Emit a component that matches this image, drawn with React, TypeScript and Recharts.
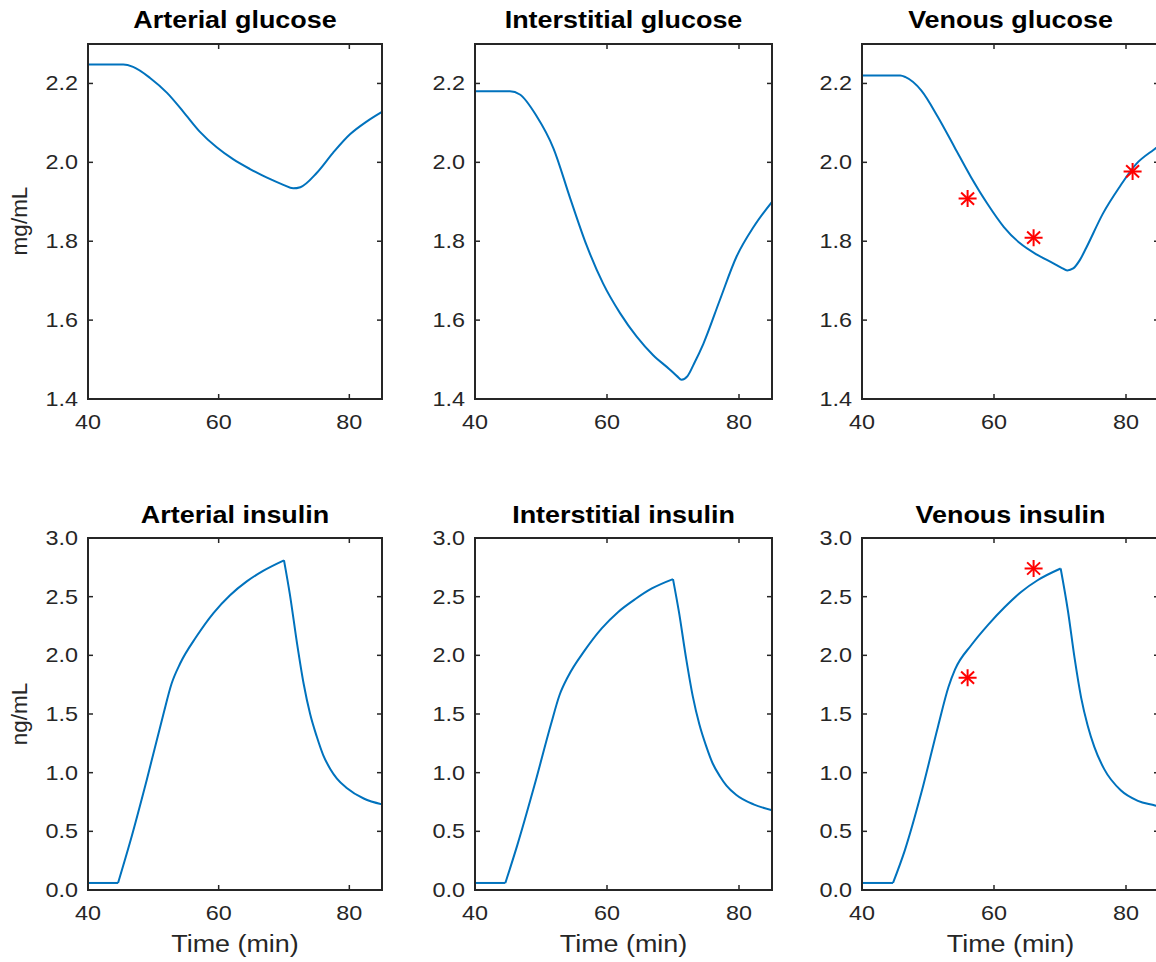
import React from 'react';
import { ComposedChart, Line, Scatter, XAxis, YAxis } from 'recharts';

const BLUE = '#0072BD';
const INK = '#262626';
const RED = '#FF0000';
const FONT = '"Liberation Sans", Arial, Helvetica, sans-serif';
// the reference figure is stretched horizontally, so text is widened to match
const SX = 1.17;

const timeDomain = [40, 85];
const timeTicks = [40, 60, 80];
const glucoseDomain = [1.4, 2.3];
const glucoseTicks = [1.4, 1.6, 1.8, 2.0, 2.2];
const insulinDomain = [0, 3];
const insulinTicks = [0, 0.5, 1, 1.5, 2, 2.5, 3];

const arterialGlucoseTime = [40, 45.4, 46.9, 49.5, 52.1, 54.6, 57.1, 59.7, 62.2, 64.8, 67.4, 69.9, 71.4, 72.5, 75.0, 77.5, 80.1, 82.7, 85];
const arterialGlucose = [2.248, 2.248, 2.242, 2.214, 2.176, 2.128, 2.078, 2.038, 2.008, 1.983, 1.961, 1.943, 1.934, 1.937, 1.973, 2.024, 2.071, 2.104, 2.128];

const interstitialGlucoseTime = [40, 45.3, 46.8, 49.3, 51.9, 54.4, 56.9, 59.4, 62.0, 64.5, 67.0, 69.5, 70.6, 71.3, 72.2, 73.2, 74.6, 77.1, 79.6, 82.2, 85];
const interstitialGlucose = [2.18, 2.18, 2.172, 2.118, 2.035, 1.910, 1.790, 1.693, 1.617, 1.558, 1.511, 1.475, 1.458, 1.449, 1.458, 1.490, 1.540, 1.651, 1.760, 1.836, 1.900];

const venousGlucoseTime = [40, 45.8, 46.6, 49.0, 51.5, 54.0, 56.5, 59.0, 61.5, 64.0, 66.5, 69.0, 70.3, 71.1, 72.0, 73.0, 74.0, 76.5, 79.0, 81.5, 84.2, 85];
const venousGlucose = [2.22, 2.22, 2.216, 2.182, 2.115, 2.039, 1.963, 1.895, 1.836, 1.794, 1.766, 1.744, 1.732, 1.726, 1.731, 1.752, 1.784, 1.870, 1.937, 1.995, 2.032, 2.042];

const venousGlucoseSampleTime = [56, 66, 81];
const venousGlucoseSample = [1.908, 1.809, 1.977];

const arterialInsulinTime = [40, 44.6, 46.4, 49.0, 51.5, 52.8, 54.1, 56.6, 59.2, 61.7, 64.3, 66.8, 70.0, 70.9, 72.0, 73.0, 74.0, 75.0, 76.0, 77.1, 78.1, 79.6, 82.2, 85];
const arterialInsulin = [0.06, 0.06, 0.40, 0.94, 1.49, 1.76, 1.93, 2.16, 2.36, 2.51, 2.63, 2.72, 2.81, 2.52, 2.10, 1.76, 1.50, 1.31, 1.15, 1.03, 0.95, 0.87, 0.78, 0.73];

const interstitialInsulinTime = [40, 44.6, 46.4, 49.0, 51.5, 52.8, 54.1, 56.6, 59.2, 61.7, 64.3, 66.8, 70.0, 70.9, 72.0, 73.0, 74.0, 75.0, 76.0, 77.1, 78.1, 79.6, 82.2, 85];
const interstitialInsulin = [0.06, 0.06, 0.38, 0.89, 1.41, 1.66, 1.82, 2.04, 2.23, 2.37, 2.48, 2.57, 2.65, 2.37, 1.97, 1.65, 1.41, 1.23, 1.08, 0.97, 0.89, 0.81, 0.73, 0.68];

const venousInsulinTime = [40, 44.7, 46.5, 49.0, 51.5, 53.1, 54.1, 56.6, 59.1, 61.6, 64.1, 66.6, 70.1, 71.2, 72.2, 73.2, 74.2, 75.2, 76.7, 79.2, 81.8, 84.4, 85];
const venousInsulin = [0.06, 0.06, 0.34, 0.83, 1.39, 1.73, 1.88, 2.09, 2.26, 2.41, 2.54, 2.64, 2.74, 2.38, 1.98, 1.64, 1.40, 1.22, 1.03, 0.85, 0.76, 0.72, 0.71];

const venousInsulinSampleTime = [56, 66];
const venousInsulinSample = [1.81, 2.74];

type Pt = { t: number; v: number };
const zip = (ts: number[], vs: number[]): Pt[] => ts.map((t, i) => ({ t, v: vs[i] }));

// insulin curves have hard corners (infusion on / off): draw them as separate pieces
function pieces(pts: Pt[], sharp: boolean): Pt[][] {
  if (!sharp) return [pts];
  const peak = pts.reduce((m, p, i) => (p.v > pts[m].v ? i : m), 0);
  return [pts.slice(0, 2), pts.slice(1, peak + 1), pts.slice(peak)];
}

const TICK = 5;

// tick label plus an inward MATLAB-style tick mark
function BottomTick(props: any) {
  const { x, y, payload } = props;
  return (
    <g>
      <line x1={x} y1={y - 30} x2={x} y2={y - 30 - TICK} stroke={INK} strokeWidth={1.5} />
      <text transform={`translate(${x},${y}) scale(${SX},1)`} textAnchor="middle"
        fontSize={20} fontFamily={FONT} fill={INK}>{String(payload.value)}</text>
    </g>
  );
}

function LeftTick(props: any) {
  const { x, y, payload } = props;
  return (
    <g>
      <line x1={x + 10} y1={y} x2={x + 10 + TICK} y2={y} stroke={INK} strokeWidth={1.5} />
      <text transform={`translate(${x},${y}) scale(${SX},1)`} textAnchor="end" dy={7}
        fontSize={20} fontFamily={FONT} fill={INK}>{payload.value.toFixed(1)}</text>
    </g>
  );
}

function TopTick(props: any) {
  const { x, y } = props;
  return <line x1={x} y1={y} x2={x} y2={y + TICK} stroke={INK} strokeWidth={1.5} />;
}

function RightTick(props: any) {
  const { x, y } = props;
  return <line x1={x} y1={y} x2={x - TICK} y2={y} stroke={INK} strokeWidth={1.5} />;
}

function Asterisk(props: any) {
  const { cx, cy } = props;
  const rx = 9, ry = 8.5, dx = rx * 0.72, dy = ry * 0.72;
  return (
    <g stroke={RED} strokeWidth={2}>
      <line x1={cx - rx} y1={cy} x2={cx + rx} y2={cy} />
      <line x1={cx} y1={cy - ry} x2={cx} y2={cy + ry} />
      <line x1={cx - dx} y1={cy - dy} x2={cx + dx} y2={cy + dy} />
      <line x1={cx - dx} y1={cy + dy} x2={cx + dx} y2={cy - dy} />
    </g>
  );
}

const ML = 80, MT = 10, MR = 10, XH = 50;
const frame = { stroke: INK, strokeWidth: 2, strokeLinecap: 'square' as const };

function Panel({ left, top, width, height, yDomain, yTicks, curve, sharp, samples }: any) {
  const segs = pieces(curve, sharp);
  return (
    <div style={{ position: 'absolute', left: left - ML, top: top - MT }}>
      <ComposedChart width={ML + width + MR} height={MT + height + XH} margin={{ top: MT - 1, right: MR - 1, bottom: 0, left: 0 }}>
        <XAxis
          dataKey="t" type="number" domain={timeDomain} ticks={timeTicks} interval={0}
          height={XH} axisLine={frame} tickLine={false} tickSize={0} tickMargin={30}
          tick={(p: any) => <BottomTick {...p} />}
        />
        <XAxis
          xAxisId="top" orientation="top" dataKey="t" type="number" domain={timeDomain} ticks={timeTicks} interval={0}
          height={1} axisLine={frame} tickLine={false} tickSize={0} tickMargin={0}
          tick={(p: any) => <TopTick {...p} />}
        />
        <YAxis
          type="number" domain={yDomain} ticks={yTicks} interval={0} allowDataOverflow
          width={ML} axisLine={frame} tickLine={false} tickSize={0} tickMargin={10}
          tick={(p: any) => <LeftTick {...p} />}
        />
        <YAxis
          yAxisId="right" orientation="right" type="number" domain={yDomain} ticks={yTicks} interval={0} allowDataOverflow
          width={1} axisLine={frame} tickLine={false} tickSize={0} tickMargin={0}
          tick={(p: any) => <RightTick {...p} />}
        />
        {/* invisible series so the mirror axes (box) are drawn */}
        <Line data={curve} dataKey="v" xAxisId="top" yAxisId="right" stroke="none" dot={false}
          activeDot={false} isAnimationActive={false} />
        {segs.map((s, i) => (
          <Line key={i} data={s} dataKey="v" type="monotone" stroke={BLUE} strokeWidth={2}
            dot={false} activeDot={false} isAnimationActive={false} />
        ))}
        {samples && (
          <Scatter data={samples} dataKey="v" shape={(p: any) => <Asterisk {...p} />} isAnimationActive={false} />
        )}
      </ComposedChart>
    </div>
  );
}

const COLS = [
  { left: 88, width: 294 },
  { left: 475, width: 297 },
  { left: 862, width: 297 },
];
const ROWS = [
  { top: 44, height: 355, titleY: 28 },
  { top: 538, height: 352, titleY: 523 },
];

const panels = [
  { row: 0, col: 0, title: 'Arterial glucose', curve: zip(arterialGlucoseTime, arterialGlucose) },
  { row: 0, col: 1, title: 'Interstitial glucose', curve: zip(interstitialGlucoseTime, interstitialGlucose) },
  { row: 0, col: 2, title: 'Venous glucose', curve: zip(venousGlucoseTime, venousGlucose),
    samples: zip(venousGlucoseSampleTime, venousGlucoseSample) },
  { row: 1, col: 0, title: 'Arterial insulin', curve: zip(arterialInsulinTime, arterialInsulin), sharp: true },
  { row: 1, col: 1, title: 'Interstitial insulin', curve: zip(interstitialInsulinTime, interstitialInsulin), sharp: true },
  { row: 1, col: 2, title: 'Venous insulin', curve: zip(venousInsulinTime, venousInsulin), sharp: true,
    samples: zip(venousInsulinSampleTime, venousInsulinSample) },
];

export default function App() {
  return (
    <div style={{ position: 'fixed', left: 0, top: 0, width: 1156, height: 962, overflow: 'hidden', background: '#fff', fontFamily: FONT }}>
      {panels.map(p => {
        const c = COLS[p.col], r = ROWS[p.row];
        return (
          <Panel
            key={p.title}
            left={c.left} top={r.top} width={c.width} height={r.height}
            yDomain={p.row === 0 ? glucoseDomain : insulinDomain}
            yTicks={p.row === 0 ? glucoseTicks : insulinTicks}
            curve={p.curve} sharp={!!p.sharp} samples={p.samples}
          />
        );
      })}
      <svg width={1156} height={962} style={{ position: 'absolute', left: 0, top: 0, pointerEvents: 'none' }}>
        {panels.map(p => {
          const c = COLS[p.col], r = ROWS[p.row];
          return (
            <text key={p.title} transform={`translate(${c.left + c.width / 2},${r.titleY}) scale(${SX},1)`}
              textAnchor="middle" fontSize={23} fontWeight="bold" fontFamily={FONT} fill="#000">
              {p.title}
            </text>
          );
        })}
        {COLS.map((c, i) => (
          <text key={i} transform={`translate(${c.left + c.width / 2},952) scale(${SX},1)`}
            textAnchor="middle" fontSize={23} fontFamily={FONT} fill={INK}>
            Time (min)
          </text>
        ))}
        <text transform="translate(27,221) rotate(-90)" textAnchor="middle" fontSize={22.5} fontFamily={FONT} fill={INK}>mg/mL</text>
        <text transform="translate(27,714) rotate(-90)" textAnchor="middle" fontSize={22.5} fontFamily={FONT} fill={INK}>ng/mL</text>
      </svg>
    </div>
  );
}
